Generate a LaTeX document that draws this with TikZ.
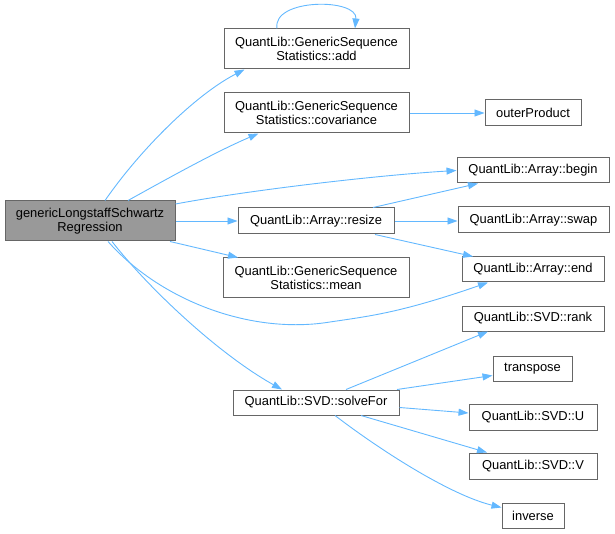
\documentclass[tikz,border=0pt]{standalone}
\usepackage{fontspec}
\setmainfont{Liberation Sans}
\usetikzlibrary{arrows.meta,calc}
\definecolor{edgec}{HTML}{63B8FF}
\definecolor{boxc}{HTML}{666666}
\definecolor{mainfill}{HTML}{999999}
\begin{document}
\begin{tikzpicture}[x=1pt,y=-1pt,
  box/.style={draw=boxc,line width=1pt,fill=white,inner sep=0pt,align=center,
    font=\fontsize{12.9}{14.5}\selectfont},
  mainbox/.style={box,fill=mainfill},
  edge/.style={draw=edgec,line width=0.9pt,-{Triangle[length=10pt,width=7pt]}}]
\useasboundingbox (0,0) rectangle (615,534);
\node[mainbox,minimum width=170pt,minimum height=40pt] (main) at (90,221) {genericLongstaffSchwartz\\Regression};
\node[box,minimum width=185pt,minimum height=40pt] (add) at (316.5,49) {QuantLib::GenericSequence\\Statistics::add};
\node[box,minimum width=185pt,minimum height=40pt] (cov) at (316.5,113) {QuantLib::GenericSequence\\Statistics::covariance};
\node[box,minimum width=96pt,minimum height=26pt] (outer) at (533,113) {outerProduct};
\node[box,minimum width=152pt,minimum height=25pt] (begin) at (533,170.5) {QuantLib::Array::begin};
\node[box,minimum width=151pt,minimum height=26pt] (swap) at (533.5,220) {QuantLib::Array::swap};
\node[box,minimum width=142pt,minimum height=25pt] (end) at (533,269.5) {QuantLib::Array::end};
\node[box,minimum width=156pt,minimum height=26pt] (resize) at (316,221) {QuantLib::Array::resize};
\node[box,minimum width=186pt,minimum height=40pt] (mean) at (316,278) {QuantLib::GenericSequence\\Statistics::mean};
\node[box,minimum width=142pt,minimum height=25pt] (rank) at (533,318.5) {QuantLib::SVD::rank};
\node[box,minimum width=79pt,minimum height=25pt] (transpose) at (532.5,368.5) {transpose};
\node[box,minimum width=128pt,minimum height=26pt] (U) at (533,417) {QuantLib::SVD::U};
\node[box,minimum width=128pt,minimum height=26pt] (V) at (533,466) {QuantLib::SVD::V};
\node[box,minimum width=62pt,minimum height=25pt] (inverse) at (533,515.5) {inverse};
\node[box,minimum width=166pt,minimum height=25pt] (solve) at (316,402.5) {QuantLib::SVD::solveFor};

\draw[edge] ($(main.north)+(15,0)$) .. controls (140,150) and (195,95) .. ($(add.south)+(-72,0)$);
\draw[edge] ($(add.north)+(-39.5,0)$) .. controls (272,-2) and (358,-2) .. ($(add.north)+(38.5,0)$);
\draw[edge] ($(main.north)+(38,0)$) .. controls (165,180) and (215,152) .. ($(cov.south)+(-58,0)$);
\draw[edge] ($(main.east)+(0,-17)$) .. controls (250,190) and (380,175) .. ($(begin.west)+(0,0)$);
\draw[edge] (main.east) -- (resize.west);
\draw[edge] ($(main.south)+(80,0)$) -- ($(mean.north)+(-78,0)$);
\draw[edge] ($(main.south)+(18,0)$) .. controls (160,300) and (250,335) .. (330,322) .. controls (370,316) and (400,313) .. ($(end.south)+(-45,0)$);
\draw[edge] ($(main.south)+(22,0)$) .. controls (150,290) and (220,355) .. ($(solve.north)+(-34,0)$);
\draw[edge] (cov.east) -- (outer.west);
\draw[edge] ($(resize.north)+(57,0)$) -- ($(begin.south)+(-55,0)$);
\draw[edge] (resize.east) -- (swap.west |- resize.east);
\draw[edge] ($(resize.south)+(59,0)$) -- ($(end.north)+(-60,0)$);
\draw[edge] ($(solve.north)+(30,0)$) -- ($(rank.south)+(-45,0)$);
\draw[edge] ($(solve.north)+(81,0)$) -- ($(transpose.west)+(0,7)$);
\draw[edge] ($(solve.east)+(0,5)$) -- ($(U.west)+(0,-4)$);
\draw[edge] ($(solve.south)+(45,0)$) -- ($(V.north)+(-46,0)$);
\draw[edge] ($(solve.south)+(19,0)$) .. controls (380,450) and (450,495) .. ($(inverse.west)+(0,-8)$);
\end{tikzpicture}
\end{document}
